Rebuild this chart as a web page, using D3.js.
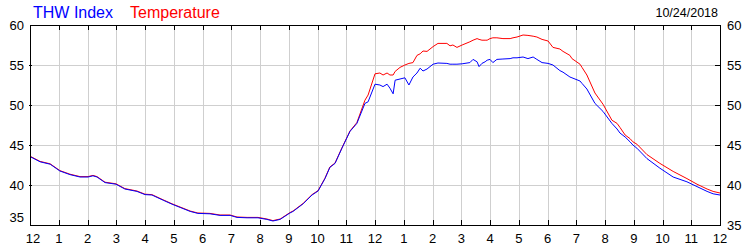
<!DOCTYPE html>
<html>
<head>
<meta charset="utf-8">
<script src="https://cdn.jsdelivr.net/npm/d3@7"></script>
<style>
  body { margin: 0; background: #fff; }
  svg { display: block; font-family: "Liberation Sans", Arial, sans-serif; }
</style>
</head>
<body>
<script>
// hours since midnight (readings)
var hours = [0.00, 0.35, 0.70, 1.04, 1.39, 1.74, 2.02, 2.19, 2.33, 2.61, 2.99, 3.30, 3.72, 4.00, 4.24, 4.63, 4.94,
  5.22, 5.57, 5.84, 6.26, 6.61, 6.96, 7.20, 7.55, 7.93, 8.24, 8.45, 8.70, 9.04, 9.15, 9.50, 9.81, 10.02, 10.26,
  10.43, 10.61, 10.85, 11.13, 11.37, 11.65, 11.76, 12.00, 12.17, 12.28, 12.42, 12.52, 12.63, 12.70, 12.87, 13.04,
  13.18, 13.32, 13.46, 13.57, 13.67, 13.81, 14.02, 14.19, 14.50, 14.61, 14.71, 14.85, 15.03, 15.30, 15.41, 15.55,
  15.62, 15.72, 15.83, 15.90, 16.00, 16.10, 16.24, 16.45, 16.70, 16.80, 16.94, 17.15, 17.32, 17.50, 17.63, 17.81,
  18.02, 18.19, 18.43, 18.54, 18.78, 18.85, 19.13, 19.20, 19.37, 19.65, 19.93, 20.24, 20.42, 20.52, 20.70, 20.87,
  20.97, 21.11, 21.46, 21.91, 22.37, 22.85, 23.20, 23.55, 23.76, 24.00];

var thwIndex = [43.55, 42.9, 42.6, 41.75, 41.3, 41.0, 41.0, 41.15, 41.0, 40.3, 40.1, 39.5, 39.2, 38.8, 38.75, 38.1, 37.6,
  37.2, 36.7, 36.45, 36.4, 36.2, 36.2, 35.95, 35.9, 35.9, 35.7, 35.5, 35.7, 36.5, 36.7, 37.65, 38.75, 39.25, 40.8,
  42.2, 42.7, 44.6, 46.7, 47.7, 50.2, 50.4, 52.6, 52.5, 52.3, 52.6, 52.1, 51.4, 53.1, 53.25, 53.4,
  52.5, 53.5, 54.0, 54.6, 54.25, 54.5, 55.1, 55.25, 55.2, 55.1, 55.1, 55.1, 55.15, 55.3, 55.7, 55.4,
  54.8, 55.2, 55.4, 55.6, 55.7, 55.3, 55.7, 55.75, 55.8, 55.9, 55.9, 56.0, 55.8, 56.0, 55.7, 55.3,
  55.2, 55.0, 54.3, 54.1, 53.5, 53.4, 53.0, 52.7, 52.0, 50.2, 49.2, 47.7, 47.0, 46.5, 46.0, 45.4,
  45.0, 44.6, 43.3, 42.1, 41.0, 40.4, 39.8, 39.2, 38.9, 38.75];

var temperature = [43.6, 42.95, 42.65, 41.8, 41.35, 41.05, 41.05, 41.2, 41.05, 40.35, 40.15, 39.55, 39.25, 38.85, 38.8, 38.15, 37.65,
  37.25, 36.75, 36.5, 36.45, 36.25, 36.25, 36.0, 35.95, 35.95, 35.75, 35.55, 35.75, 36.55, 36.75, 37.7, 38.8, 39.3, 40.85,
  42.25, 42.75, 44.65, 46.75, 47.8, 50.6, 51.25, 53.9, 54.0, 53.75, 54.0, 53.75, 53.75, 54.2, 54.7, 55.0,
  55.2, 55.3, 56.2, 56.4, 56.75, 56.7, 57.3, 57.7, 57.7, 57.4, 57.5, 57.2, 57.5, 57.9, 58.1, 58.3,
  58.2, 58.1, 58.1, 58.1, 58.3, 58.4, 58.4, 58.3, 58.3, 58.4, 58.5, 58.75, 58.7, 58.6, 58.5, 58.2,
  58.0, 57.2, 57.0, 56.7, 56.2, 55.8, 55.1, 54.7, 53.75, 51.5, 50.1, 48.1, 47.7, 47.2, 46.25, 45.8,
  45.4, 45.1, 43.8, 42.7, 41.7, 40.8, 40.1, 39.5, 39.2, 39.0];

var hourTicks = [0, 1, 2, 3, 4, 5, 6, 7, 8, 9, 10, 11, 12, 13, 14, 15, 16, 17, 18, 19, 20, 21, 22, 23, 24];
var hourLabels = ["12", "1", "2", "3", "4", "5", "6", "7", "8", "9", "10", "11",
                  "12", "1", "2", "3", "4", "5", "6", "7", "8", "9", "10", "11", "12"];
var yTicks = [35, 40, 45, 50, 55, 60];
var dateLabel = "10/24/2018";

var width = 750, height = 250;
var plotLeft = 30, plotRight = 720, plotTop = 25, plotBottom = 225;

var x = d3.scaleLinear().domain([0, 24]).range([plotLeft, plotRight]);
var y = d3.scaleLinear().domain([35, 60]).range([plotBottom, plotTop]);

var svg = d3.select("body").append("svg")
  .attr("width", width)
  .attr("height", height);

// grid
svg.append("g")
  .selectAll("line")
  .data(hourTicks.slice(1, -1))
  .enter().append("line")
    .attr("x1", d => Math.round(x(d)) + 0.5)
    .attr("x2", d => Math.round(x(d)) + 0.5)
    .attr("y1", plotTop)
    .attr("y2", plotBottom)
    .attr("stroke", "#cfcfcf");
svg.append("g")
  .selectAll("line")
  .data(yTicks.slice(1, -1))
  .enter().append("line")
    .attr("x1", plotLeft)
    .attr("x2", plotRight)
    .attr("y1", d => Math.round(y(d)) + 0.5)
    .attr("y2", d => Math.round(y(d)) + 0.5)
    .attr("stroke", "#cfcfcf");

// series
var line = d3.line()
  .x((d, i) => x(hours[i]))
  .y(d => y(d));

svg.append("path")
  .datum(temperature)
  .attr("d", line)
  .attr("fill", "none")
  .attr("stroke", "#ff0000")
  .attr("stroke-width", 1);

svg.append("path")
  .datum(thwIndex)
  .attr("d", line)
  .attr("fill", "none")
  .attr("stroke", "#0000ff")
  .attr("stroke-width", 1);

// frame + inner ticks
svg.append("rect")
  .attr("x", plotLeft + 0.5)
  .attr("y", plotTop + 0.5)
  .attr("width", plotRight - plotLeft)
  .attr("height", plotBottom - plotTop)
  .attr("fill", "none")
  .attr("stroke", "#000");

var tickG = svg.append("g").attr("stroke", "#000");
hourTicks.slice(1, -1).forEach(function(h) {
  var px = Math.round(x(h)) + 0.5;
  tickG.append("line").attr("x1", px).attr("x2", px).attr("y1", plotTop).attr("y2", plotTop + 5);
  tickG.append("line").attr("x1", px).attr("x2", px).attr("y1", plotBottom - 5).attr("y2", plotBottom);
});
yTicks.slice(1, -1).forEach(function(v) {
  var py = Math.round(y(v)) + 0.5;
  tickG.append("line").attr("x1", plotRight - 5).attr("x2", plotRight).attr("y1", py).attr("y2", py);
  tickG.append("line").attr("x1", plotLeft - 1).attr("x2", plotLeft + 2).attr("y1", py).attr("y2", py);
});

// axis labels
svg.append("g")
  .selectAll("text")
  .data(hourTicks)
  .enter().append("text")
    .attr("x", d => d === 0 ? x(d) + 3 : x(d))
    .attr("y", 243)
    .attr("text-anchor", "middle")
    .attr("font-size", 13)
    .text((d, i) => hourLabels[i]);

svg.append("g")
  .selectAll("text")
  .data(yTicks)
  .enter().append("text")
    .attr("x", 24)
    .attr("y", d => y(d) + (d === 35 ? -3 : 5))
    .attr("text-anchor", "end")
    .attr("font-size", 13)
    .text(d => d);

svg.append("g")
  .selectAll("text")
  .data(yTicks)
  .enter().append("text")
    .attr("x", 727)
    .attr("y", d => y(d) + 5)
    .attr("text-anchor", "start")
    .attr("font-size", 13)
    .text(d => d);

// legend + date
svg.append("text")
  .attr("x", 33).attr("y", 18)
  .attr("font-size", 16)
  .attr("fill", "#0000ff")
  .text("THW Index");
svg.append("text")
  .attr("x", 130).attr("y", 18)
  .attr("font-size", 16)
  .attr("fill", "#ff0000")
  .text("Temperature");
svg.append("text")
  .attr("x", 718).attr("y", 17)
  .attr("text-anchor", "end")
  .attr("font-size", 12.5)
  .text(dateLabel);
</script>
</body>
</html>
